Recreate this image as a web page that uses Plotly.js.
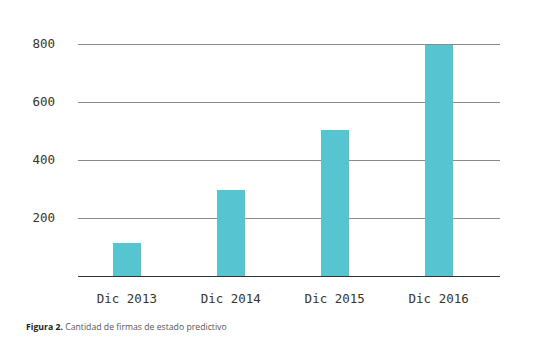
<!DOCTYPE html>
<html><head><meta charset="utf-8">
<script src="https://cdn.plot.ly/plotly-3.0.1.min.js"></script>
<style>body{margin:0;background:#fff}#c{width:541px;height:358px}</style>
</head><body><div id="c"></div>
<script>
const categories = ["Dic 2013", "Dic 2014", "Dic 2015", "Dic 2016"];
const values = [113, 297, 503, 797];
const yTicks = [200, 400, 600, 800];

const data = [{
  type: "bar",
  x: categories,
  y: values,
  width: 0.27,
  marker: {color: "#57c5d0", line: {width: 0}},
  hoverinfo: "x+y"
}];

const layout = {
  width: 541, height: 358,
  margin: {l: 78, r: 41, t: 40, b: 82},
  paper_bgcolor: "#fff", plot_bgcolor: "#fff",
  showlegend: false,
  bargap: 0,
  xaxis: {
    type: "category",
    range: [-0.47, 3.59],
    showgrid: false,
    showline: true, linecolor: "#333", linewidth: 1,
    ticks: "", ticklabelstandoff: 11,
    tickfont: {family: "DejaVu Sans Mono", size: 12.5, color: "#3a3328"},
    zeroline: false, fixedrange: true
  },
  yaxis: {
    range: [0, 814],
    tickvals: yTicks,
    ticktext: yTicks.map(String),
    showgrid: true, gridcolor: "#8a8a8a", gridwidth: 1,
    showline: false, zeroline: false,
    ticks: "", ticklabelstandoff: 22,
    tickfont: {family: "DejaVu Sans Mono", size: 12.5, color: "#3a3328"},
    fixedrange: true
  },
  annotations: [{
    xref: "paper", yref: "paper", x: -0.128, y: -0.215,
    xanchor: "left", yanchor: "middle", showarrow: false,
    text: "<b style='color:#222'>Figura 2.</b> Cantidad de firmas de estado predictivo",
    font: {family: "Open Sans", size: 8.7, color: "#555"}
  }]
};

Plotly.newPlot("c", data, layout, {displayModeBar: false, staticPlot: true});
</script></body></html>
